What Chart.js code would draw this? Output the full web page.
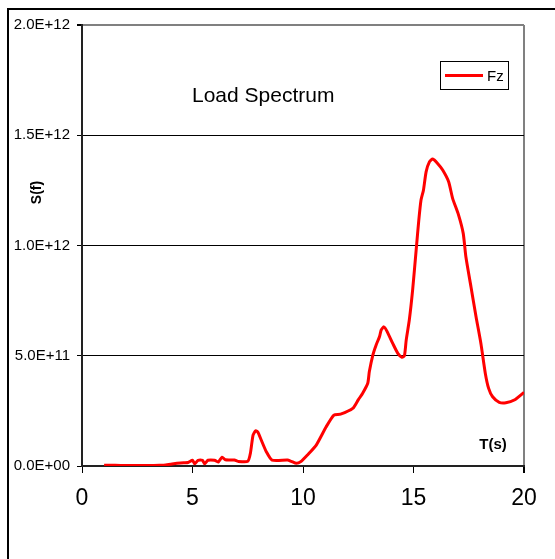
<!DOCTYPE html>
<html>
<head>
<meta charset="utf-8">
<script src="https://cdn.jsdelivr.net/npm/chart.js@4/dist/chart.umd.min.js"></script>
<style>
html,body{margin:0;padding:0;background:#fff;}
canvas{display:block;}
</style>
</head>
<body>
<canvas id="c" width="555" height="559"></canvas>
<script>
// Data
const periods = [1.0, 1.5, 2.0, 2.5, 3.0, 3.5, 3.7, 4.0, 4.3, 4.6, 4.8, 5.0, 5.1, 5.25, 5.45, 5.55, 5.7, 6.0, 6.16, 6.34, 6.49, 6.9, 7.06, 7.5, 7.62, 7.74, 7.86, 7.96, 8.11, 8.34, 8.6, 9.3, 9.47, 9.7, 9.9, 10.2, 10.6, 11.05, 11.4, 11.7, 12.25, 12.5, 12.7, 12.93, 13.0, 13.16, 13.31, 13.46, 13.54, 13.66, 13.79, 14.06, 14.29, 14.48, 14.59, 14.67, 14.81, 14.96, 15.12, 15.24, 15.34, 15.45, 15.57, 15.72, 15.87, 16.09, 16.32, 16.59, 16.77, 17.04, 17.25, 17.37, 17.6, 17.83, 18.05, 18.25, 18.4, 18.58, 18.88, 19.18, 19.56, 20.0];
const fzSpectrum = [0.003e12, 0.003e12, 0.002e12, 0.002e12, 0.002e12, 0.003e12, 0.004e12, 0.008e12, 0.012e12, 0.015e12, 0.016e12, 0.026e12, 0.010e12, 0.026e12, 0.026e12, 0.010e12, 0.026e12, 0.026e12, 0.018e12, 0.040e12, 0.028e12, 0.027e12, 0.021e12, 0.021e12, 0.058e12, 0.140e12, 0.160e12, 0.153e12, 0.118e12, 0.065e12, 0.027e12, 0.027e12, 0.021e12, 0.012e12, 0.020e12, 0.050e12, 0.095e12, 0.178e12, 0.231e12, 0.235e12, 0.261e12, 0.300e12, 0.330e12, 0.375e12, 0.427e12, 0.503e12, 0.549e12, 0.586e12, 0.617e12, 0.631e12, 0.613e12, 0.556e12, 0.511e12, 0.493e12, 0.500e12, 0.571e12, 0.662e12, 0.798e12, 0.979e12, 1.115e12, 1.206e12, 1.251e12, 1.334e12, 1.379e12, 1.392e12, 1.372e12, 1.342e12, 1.289e12, 1.214e12, 1.138e12, 1.055e12, 0.949e12, 0.813e12, 0.677e12, 0.556e12, 0.420e12, 0.352e12, 0.314e12, 0.289e12, 0.287e12, 0.299e12, 0.334e12];
const xTicks = [0, 5, 10, 15, 20];
const yTicks = [0, 5e11, 1e12, 1.5e12, 2e12];
const seriesName = 'Fz';
const chartTitle = 'Load Spectrum';
const yTitle = 'S(f)';
const xTitle = 'T(s)';

const FONT = '"Liberation Sans", Arial, sans-serif';

function sci(v) {
  const s = Number(v).toExponential(1);
  const parts = s.split('e');
  const sign = parts[1][0];
  const d = parts[1].slice(1).padStart(2, '0');
  return parts[0] + 'E' + sign + d;
}

const points = periods.map((t, i) => ({x: t, y: fzSpectrum[i]}));

const decor = {
  id: 'decor',
  beforeDraw(chart) {
    const ctx = chart.ctx;
    ctx.save();
    ctx.fillStyle = '#fff';
    ctx.fillRect(0, 0, chart.width, chart.height);
    ctx.fillStyle = '#000';
    ctx.fillRect(7, 8, chart.width - 7, 2);
    ctx.fillRect(7, 8, 2, chart.height - 8);
    ctx.restore();
  },
  afterDraw(chart) {
    const ctx = chart.ctx;
    ctx.save();
    ctx.fillStyle = '#000';
    ctx.textBaseline = 'alphabetic';
    ctx.textAlign = 'left';
    ctx.font = '21px ' + FONT;
    ctx.fillText(chartTitle, 192, 102);
    ctx.font = 'bold 15px ' + FONT;
    ctx.textAlign = 'center';
    ctx.fillText(xTitle, 493, 449);
    ctx.save();
    ctx.translate(40.5, 192.5);
    ctx.rotate(-Math.PI / 2);
    ctx.textBaseline = 'alphabetic';
    ctx.font = 'bold 14px ' + FONT;
    ctx.fillText(yTitle, 0, 0);
    ctx.restore();
    // legend
    ctx.strokeStyle = '#000';
    ctx.lineWidth = 1;
    ctx.strokeRect(440.5, 61.5, 68, 28);
    ctx.strokeStyle = '#ff0000';
    ctx.lineWidth = 3;
    ctx.beginPath();
    ctx.moveTo(445, 75.5);
    ctx.lineTo(483, 75.5);
    ctx.stroke();
    ctx.fillStyle = '#000';
    ctx.textAlign = 'left';
    ctx.font = '15px ' + FONT;
    ctx.fillText(seriesName, 487, 80.5);
    ctx.restore();
  }
};

new Chart(document.getElementById('c'), {
  type: 'line',
  data: {
    datasets: [{
      label: seriesName,
      data: points,
      borderColor: '#ff0000',
      borderWidth: 3,
      pointRadius: 0,
      fill: false,
      tension: 0.2
    }]
  },
  options: {
    responsive: false,
    animation: false,
    layout: {padding: {left: 0, top: 25, right: 31, bottom: 0}},
    plugins: {legend: {display: false}, title: {display: false}, tooltip: {enabled: false}},
    scales: {
      x: {
        type: 'linear',
        min: 0, max: 20,
        afterFit(s) { s.height = 93; },
        afterBuildTicks(s) { s.ticks = xTicks.map(v => ({value: v})); },
        grid: {
          drawOnChartArea: true,
          color: c => (c.tick && c.tick.value === 20) ? '#808080' : 'rgba(0,0,0,0)',
          lineWidth: c => (c.tick && c.tick.value === 20) ? 2 : 1,
          tickColor: '#000',
          tickLength: 7
        },
        border: {display: true, color: '#222', width: 2},
        ticks: {font: {family: FONT, size: 23}, color: '#000', padding: 12, maxRotation: 0}
      },
      y: {
        type: 'linear',
        min: 0, max: 2e12,
        afterFit(s) { s.width = 82; },
        afterBuildTicks(s) { s.ticks = yTicks.map(v => ({value: v})); },
        grid: {
          color: c => (c.tick && c.tick.value === 2e12) ? '#808080' : '#000',
          lineWidth: c => (c.tick && c.tick.value === 2e12) ? 2 : 1,
          tickColor: '#000',
          tickLength: 5
        },
        border: {display: true, color: '#222', width: 2},
        ticks: {font: {family: FONT, size: 15}, color: '#000', padding: 7, callback: v => sci(v)}
      }
    }
  },
  plugins: [decor]
});
</script>
</body>
</html>
